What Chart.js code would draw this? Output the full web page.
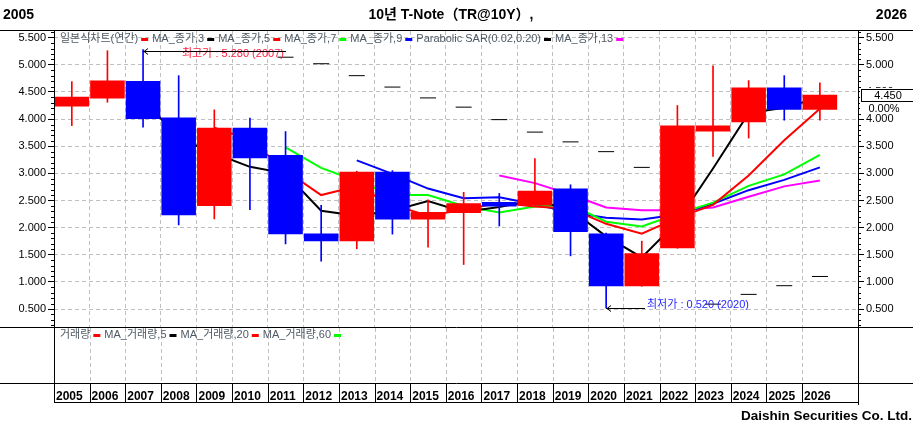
<!DOCTYPE html>
<html>
<head>
<meta charset="utf-8">
<script src="https://cdn.jsdelivr.net/npm/chart.js@4/dist/chart.umd.min.js"></script>
<style>
html, body { margin: 0; padding: 0; background: #fff; overflow: hidden; }
</style>
</head>
<body>
<canvas id="myChart" width="913" height="427"></canvas>
<script>
// yearly candles, 10y T-Note yield
var years = ['2005','2006','2007','2008','2009','2010','2011','2012','2013','2014','2015',
             '2016','2017','2018','2019','2020','2021','2022','2023','2024','2025','2026'];
var openVals  = [4.23, 4.38, 4.70, 4.03, 2.40, 3.84, 3.34, 1.89, 1.75, 3.03, 2.15,
                 2.27, 2.47, 2.41, 2.72, 1.89, 0.92, 1.62, 3.77, 3.94, 4.58, 4.17];
var closeVals = [4.41, 4.71, 4.00, 2.23, 3.84, 3.28, 1.88, 1.75, 3.03, 2.15, 2.29,
                 2.45, 2.39, 2.68, 1.92, 0.92, 1.53, 3.88, 3.88, 4.58, 4.17, 4.45];
var highVals  = [4.69, 5.26, 5.28, 4.80, 4.17, 4.02, 3.77, 2.41, 3.04, 3.05, 2.51,
                 2.65, 2.63, 3.27, 2.79, 1.90, 1.75, 4.25, 4.98, 4.71, 4.80, 4.67];
var lowVals   = [3.88, 4.31, 3.85, 2.05, 2.16, 2.33, 1.70, 1.38, 1.61, 1.88, 1.64,
                 1.32, 2.03, 2.40, 1.48, 0.52, 0.92, 1.62, 3.31, 3.65, 3.98, 3.98];

var ma3  = [null, null, 4.37, 3.65, 3.37, 3.12, 3.00, 2.31, 2.22, 2.31, 2.49,
            2.29, 2.38, 2.51, 2.33, 1.84, 1.45, 2.11, 3.09, 4.11, 4.21, 4.40];
var ma5  = [null, null, null, null, 3.84, 3.62, 3.05, 2.60, 2.76, 2.42, 2.22,
            2.33, 2.46, 2.39, 2.35, 2.07, 1.89, 2.18, 2.42, 2.96, 3.61, 4.19];
var ma7  = [null, null, null, null, null, null, 3.48, 3.10, 2.86, 2.60, 2.60,
            2.40, 2.28, 2.39, 2.42, 2.11, 2.02, 2.25, 2.46, 2.77, 2.98, 3.34];
var ma9  = [null, null, null, null, null, null, null, null, 3.24, 2.99, 2.72,
            2.54, 2.56, 2.43, 2.28, 2.18, 2.15, 2.24, 2.44, 2.69, 2.88, 3.11];
var ma13 = [null, null, null, null, null, null, null, null, null, null, null,
            null, 2.96, 2.82, 2.61, 2.37, 2.32, 2.32, 2.37, 2.57, 2.76, 2.87];
var sar  = [null, null, null, null, null, null, 5.14, 5.02, 4.80, 4.59, 4.39,
            4.22, 3.99, 3.76, 3.58, 3.40, 3.11, null, 0.59, 0.77, 0.93, 1.10];

var priceTicks = [0.5, 1.0, 1.5, 2.0, 2.5, 3.0, 3.5, 4.0, 4.5, 5.0, 5.5];

var UP = '#ff0000', DOWN = '#0000ff';
var FONT = "'Liberation Sans', Arial, 'Noto Sans CJK KR', sans-serif";
var GRID = '#c0c0c0';

function pts(arr) {
    return arr.map(function (v, i) { return { x: i, y: v }; });
}
var candleColors = closeVals.map(function (c, i) { return c >= openVals[i] ? UP : DOWN; });

function maLine(label, arr, color) {
    return {
        type: 'line', label: label, data: pts(arr), yAxisID: 'y',
        borderColor: color, borderWidth: 2, pointRadius: 0, tension: 0, order: 5
    };
}

function priceAxis(pos, width, pad) {
    return {
        type: 'linear', position: pos, min: 0.169, max: 5.623,
        afterBuildTicks: function (s) { s.ticks = priceTicks.map(function (v) { return { value: v }; }); },
        afterFit: function (s) { s.width = width; },
        grid: { color: GRID, tickColor: '#000', tickLength: 6, drawOnChartArea: pos === 'left' },
        border: { display: false, dash: [4, 3] },
        ticks: {
            padding: pad, color: '#000', font: { family: FONT, size: 11 },
            callback: function (v) { return v.toFixed(3); }
        }
    };
}

// text, separators, panels and annotations around the plot
var deco = {
    id: 'deco',
    beforeDraw: function (chart) {
        var c = chart.ctx;
        c.save();
        c.fillStyle = '#fff';
        c.fillRect(0, 0, chart.width, chart.height);
        c.restore();
    },
    afterDraw: function (chart) {
        var c = chart.ctx, a = chart.chartArea, xs = chart.scales.x, ys = chart.scales.y;
        var W = chart.width;
        c.save();

        // title row
        c.fillStyle = '#000';
        c.textBaseline = 'middle';
        c.font = 'bold 14px ' + FONT;
        c.textAlign = 'left';
        c.fillText(years[0], 3, 15);
        c.textAlign = 'right';
        c.fillText(years[years.length - 1], 907, 15);
        c.textAlign = 'center';
        c.fillText('10년 T-Note（TR@10Y）,', 451, 15);

        c.lineWidth = 1;
        c.strokeStyle = '#000';
        function hline(y, x1, x2) { c.beginPath(); c.moveTo(x1, y); c.lineTo(x2, y); c.stroke(); }
        function vline(x, y1, y2) { c.beginPath(); c.moveTo(x, y1); c.lineTo(x, y2); c.stroke(); }

        hline(30.5, 0, W);
        hline(Math.round(a.bottom) + 0.5, 0, W);
        hline(383.5, 0, W);
        hline(402.5, a.left, a.right);
        vline(Math.round(a.left) + 0.5, a.top, 403);
        vline(Math.round(a.right) + 0.5, a.top, 405);

        // minor ticks
        for (var k = 2; k <= 56; k++) {
            if (k % 5 === 0) continue;
            var py = Math.round(ys.getPixelForValue(k / 10)) + 0.5;
            hline(py, a.left - 3, a.left);
            hline(py, a.right, a.right + 3);
        }

        // date row separators
        for (var i = 0; i < years.length; i++) {
            vline(Math.round(xs.getPixelForValue(i - 0.5)) + 0.5, 383, 402);
        }

        // volume panel grid
        c.strokeStyle = GRID;
        c.setLineDash([4, 3]);
        for (i = 0; i < years.length - 1; i++) {
            vline(Math.round(xs.getPixelForValue(i + 0.5)) + 0.5, a.bottom + 1, 383);
        }
        c.setLineDash([]);

        // legends
        function legend(items, x, y) {
            c.font = '11px ' + FONT;
            c.textAlign = 'left';
            c.textBaseline = 'middle';
            items.forEach(function (it) {
                c.fillStyle = '#4f5963';
                c.fillText(it[0], x, y);
                x += c.measureText(it[0]).width + 3;
                c.fillStyle = it[1];
                c.fillRect(x, y - 1, 7, 3);
                x += 11;
            });
        }
        legend([['일본식차트(연간)', UP], ['MA_종가,3', '#000'], ['MA_종가,5', UP],
                ['MA_종가,7', '#00ff00'], ['MA_종가,9', DOWN],
                ['Parabolic SAR(0.02,0.20)', '#000'], ['MA_종가,13', '#ff00ff']], 60, 39);
        legend([['거래량', UP], ['MA_거래량,5', '#000'], ['MA_거래량,20', UP],
                ['MA_거래량,60', '#00ff00']], 60, 335);

        // high / low annotations
        var hi = 0, lo = 0;
        for (i = 1; i < years.length; i++) {
            if (highVals[i] > highVals[hi]) hi = i;
            if (lowVals[i] < lowVals[lo]) lo = i;
        }
        function arrow(x, y, len) {
            c.strokeStyle = '#000';
            c.beginPath();
            c.moveTo(x, y); c.lineTo(x + len, y);
            c.moveTo(x + 5, y - 3); c.lineTo(x + 1, y); c.lineTo(x + 5, y + 3);
            c.stroke();
        }
        c.font = '11px ' + FONT;
        c.textAlign = 'left';
        c.textBaseline = 'middle';
        var hx = Math.round(xs.getPixelForValue(hi)), hy = Math.round(ys.getPixelForValue(highVals[hi])) + 1.5;
        c.fillStyle = '#ff2040';
        c.fillText('최고가 : ' + highVals[hi].toFixed(3) + ' (' + years[hi] + ')', hx + 39, hy + 2);
        arrow(hx, hy, 143);
        var lx = Math.round(xs.getPixelForValue(lo)), ly = Math.round(ys.getPixelForValue(lowVals[lo])) + 0.5;
        arrow(lx, ly, 39);
        c.fillStyle = '#2828ff';
        c.fillText('최저가 : ' + lowVals[lo].toFixed(3) + ' (' + years[lo] + ')', lx + 41, ly - 4);

        // last price box
        var last = closeVals[closeVals.length - 1];
        var ly2 = Math.round(ys.getPixelForValue(last));
        c.fillStyle = '#fff';
        c.fillRect(860, ly2 - 7, 53, 24);
        c.strokeStyle = '#000';
        c.strokeRect(861.5, ly2 - 5.5, 60, 12);
        c.fillStyle = '#000';
        c.textAlign = 'center';
        c.fillText(last.toFixed(3), 888, ly2 + 1);
        c.fillText('0.00%', 884, ly2 + 14);

        // footer
        c.font = 'bold 13.5px ' + FONT;
        c.textAlign = 'right';
        c.fillText('Daishin Securities Co. Ltd.', 912, 416);

        c.restore();
    }
};

var ctx = document.getElementById('myChart').getContext('2d');
var chart = new Chart(ctx, {
    type: 'bar',
    data: {
        datasets: [
            {
                label: 'body', yAxisID: 'y', order: 0, grouped: false,
                data: openVals.map(function (o, i) { return { x: i, y: [o, closeVals[i]] }; }),
                backgroundColor: candleColors, borderWidth: 0,
                categoryPercentage: 1, barPercentage: 0.97
            },
            {
                label: 'wick', yAxisID: 'y', order: 1, grouped: false,
                data: lowVals.map(function (l, i) { return { x: i, y: [l, highVals[i]] }; }),
                backgroundColor: candleColors, borderWidth: 0, barThickness: 1
            },
            maLine('MA_종가,3', ma3, '#000000'),
            maLine('MA_종가,5', ma5, UP),
            maLine('MA_종가,7', ma7, '#00ff00'),
            maLine('MA_종가,9', ma9, DOWN),
            maLine('MA_종가,13', ma13, '#ff00ff'),
            {
                type: 'line', label: 'Parabolic SAR(0.02,0.20)', data: pts(sar), yAxisID: 'y',
                showLine: false, pointStyle: 'line', pointRadius: 8, pointBorderWidth: 1,
                pointBorderColor: '#000', pointBackgroundColor: '#000', order: 4
            }
        ]
    },
    options: {
        responsive: false,
        devicePixelRatio: 1,
        animation: false,
        events: [],
        layout: { padding: { top: 31 } },
        plugins: { legend: { display: false }, tooltip: { enabled: false } },
        scales: {
            x: {
                type: 'linear', position: 'bottom', min: -0.5, max: 22.07, offset: false,
                afterBuildTicks: function (s) { s.ticks = years.map(function (y, i) { return { value: i - 0.5 }; }); },
                afterFit: function (s) { s.height = 100; s.paddingLeft = 0; s.paddingRight = 0; },
                grid: {
                    color: function (cx) { return cx.index === 0 ? 'rgba(0,0,0,0)' : GRID; },
                    drawTicks: false, offset: false
                },
                border: { display: false, dash: [4, 3] },
                ticks: {
                    align: 'start', labelOffset: 2, padding: 62, autoSkip: false, maxRotation: 0,
                    color: '#000', font: { family: FONT, size: 12, weight: 'bold' },
                    callback: function (v, i) { return years[i]; }
                }
            },
            y: priceAxis('left', 54, 2),
            y2: priceAxis('right', 55, 2)
        }
    },
    plugins: [deco]
});
</script>
</body>
</html>
